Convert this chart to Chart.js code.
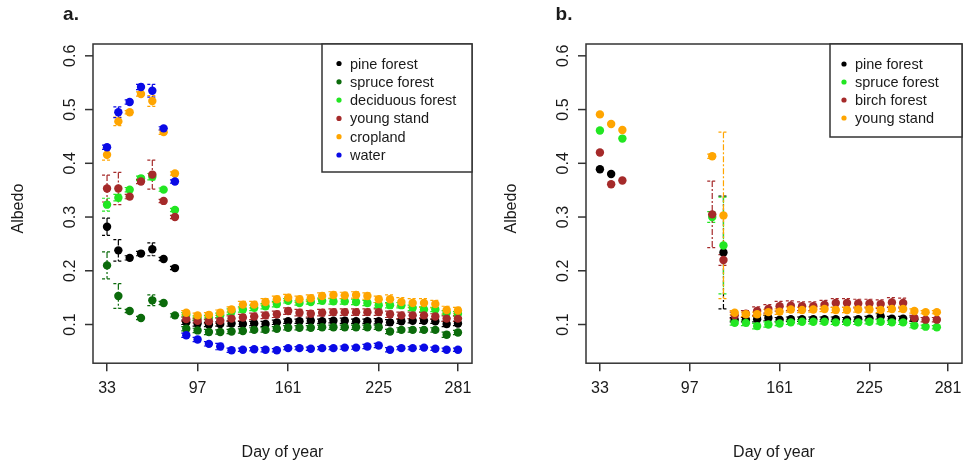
<!DOCTYPE html>
<html>
<head>
<meta charset="utf-8">
<script src="https://cdn.jsdelivr.net/npm/chart.js@4.4.1/dist/chart.umd.min.js"></script>
<style>
  html, body { margin: 0; padding: 0; background: #fff; }
  #wrap { position: relative; width: 963px; height: 468px; overflow: hidden; }
  .panel { position: absolute; top: 0; height: 468px; }
  #pa { left: 0; width: 481px; }
  #pb { left: 493px; width: 470px; }
</style>
</head>
<body>
<div id="wrap">
  <div class="panel" id="pa"><canvas id="chartA"></canvas></div>
  <div class="panel" id="pb"><canvas id="chartB"></canvas></div>
</div>
<script>
const FONT = '"Liberation Sans", Arial, sans-serif';
const TXT = '#1a1a1a';

// tick labels
const xTicks = [33, 97, 161, 225, 281];
const yTicks = [0.1, 0.2, 0.3, 0.4, 0.5, 0.6];

// panel a
const daysA = [33, 41, 49, 57, 65, 73, 81, 89, 97, 105, 113, 121, 129, 137, 145, 153,
               161, 169, 177, 185, 193, 201, 209, 217, 225, 233, 241, 249, 257, 265, 273, 281];
const namesA = ['pine forest', 'spruce forest', 'deciduous forest', 'young stand', 'cropland', 'water'];
const colorsA = ['#000000', '#0b6b0b', '#22e622', '#a52a2a', '#ffa500', '#0a0ae6'];

const pineA    = [0.282, 0.238, 0.224, 0.232, 0.240, 0.222, 0.205, 0.104, 0.102, 0.100, 0.101, 0.102, 0.101, 0.102, 0.101, 0.104,
                  0.106, 0.106, 0.107, 0.106, 0.107, 0.107, 0.106, 0.106, 0.106, 0.104, 0.106, 0.107, 0.107, 0.106, 0.101, 0.102];
const spruceA  = [0.210, 0.153, 0.125, 0.112, 0.145, 0.140, 0.117, 0.092, 0.089, 0.086, 0.086, 0.087, 0.088, 0.090, 0.090, 0.092,
                  0.094, 0.094, 0.094, 0.095, 0.095, 0.095, 0.095, 0.095, 0.095, 0.087, 0.090, 0.090, 0.090, 0.090, 0.081, 0.085];
const decidA   = [0.323, 0.336, 0.351, 0.372, 0.375, 0.351, 0.313, 0.118, 0.112, 0.113, 0.117, 0.124, 0.128, 0.131, 0.134, 0.138,
                  0.144, 0.140, 0.142, 0.144, 0.143, 0.143, 0.142, 0.140, 0.136, 0.136, 0.136, 0.131, 0.128, 0.128, 0.122, 0.120];
const youngA   = [0.353, 0.353, 0.338, 0.366, 0.379, 0.330, 0.300, 0.110, 0.107, 0.106, 0.107, 0.111, 0.113, 0.115, 0.117, 0.119,
                  0.125, 0.122, 0.120, 0.122, 0.123, 0.123, 0.123, 0.123, 0.123, 0.119, 0.117, 0.117, 0.117, 0.115, 0.111, 0.111];
const cropA    = [0.416, 0.478, 0.495, 0.529, 0.516, 0.458, 0.381, 0.122, 0.117, 0.118, 0.122, 0.128, 0.137, 0.137, 0.142, 0.147,
                  0.150, 0.147, 0.149, 0.153, 0.155, 0.154, 0.155, 0.153, 0.147, 0.147, 0.142, 0.140, 0.140, 0.138, 0.127, 0.126];
const waterA   = [0.430, 0.495, 0.514, 0.542, 0.535, 0.465, 0.366, 0.080, 0.072, 0.064, 0.059, 0.052, 0.053, 0.054, 0.053, 0.052,
                  0.056, 0.056, 0.055, 0.056, 0.056, 0.057, 0.057, 0.059, 0.061, 0.053, 0.056, 0.056, 0.057, 0.055, 0.053, 0.053];

const errPineA   = [0.016, 0.020, 0.004, 0.004, 0.012, 0.003, 0.003, 0.004, 0.005, 0.004, 0.004, 0.005, 0.005, 0.004, 0.005, 0.004,
                    0.004, 0.004, 0.005, 0.004, 0.004, 0.005, 0.004, 0.004, 0.005, 0.005, 0.004, 0.004, 0.005, 0.004, 0.005, 0.004];
const errSpruceA = [0.025, 0.023, 0.003, 0.003, 0.010, 0.003, 0.003, 0.004, 0.004, 0.005, 0.004, 0.004, 0.004, 0.004, 0.004, 0.004,
                    0.004, 0.004, 0.004, 0.004, 0.004, 0.004, 0.004, 0.004, 0.004, 0.004, 0.004, 0.004, 0.004, 0.004, 0.005, 0.004];
const errDecidA  = [0.012, 0.006, 0.004, 0.004, 0.006, 0.003, 0.003, 0.004, 0.004, 0.004, 0.004, 0.005, 0.005, 0.005, 0.005, 0.005,
                    0.004, 0.004, 0.004, 0.005, 0.005, 0.005, 0.005, 0.005, 0.005, 0.005, 0.005, 0.005, 0.005, 0.004, 0.004, 0.004];
const errYoungA  = [0.025, 0.030, 0.004, 0.004, 0.027, 0.003, 0.003, 0.004, 0.004, 0.004, 0.005, 0.005, 0.006, 0.006, 0.006, 0.006,
                    0.006, 0.006, 0.006, 0.006, 0.006, 0.006, 0.006, 0.006, 0.006, 0.006, 0.006, 0.006, 0.006, 0.005, 0.005, 0.005];
const errCropA   = [0.010, 0.008, 0.003, 0.004, 0.010, 0.004, 0.003, 0.004, 0.004, 0.004, 0.005, 0.005, 0.006, 0.006, 0.006, 0.006,
                    0.006, 0.006, 0.006, 0.006, 0.006, 0.006, 0.006, 0.006, 0.006, 0.008, 0.008, 0.008, 0.008, 0.007, 0.007, 0.006];
const errWaterA  = [0.004, 0.010, 0.004, 0.005, 0.012, 0.003, 0.003, 0.004, 0.004, 0.004, 0.006, 0.004, 0.003, 0.003, 0.004, 0.003,
                    0.003, 0.003, 0.003, 0.003, 0.003, 0.003, 0.003, 0.004, 0.004, 0.004, 0.003, 0.003, 0.003, 0.003, 0.003, 0.003];

// panel b
const daysB = [33, 41, 49, 113, 121, 129, 137, 145, 153, 161, 169, 177, 185, 193, 201, 209,
               217, 225, 233, 241, 249, 257, 265, 273];
const namesB = ['pine forest', 'spruce forest', 'birch forest', 'young stand'];
const colorsB = ['#000000', '#22e622', '#a52a2a', '#ffa500'];

const pineB   = [0.389, 0.380, null, null, 0.234, 0.109, 0.109, 0.110, 0.112, 0.109, 0.110, 0.110, 0.110, 0.110, 0.110, 0.109,
                 0.110, 0.111, 0.115, 0.111, 0.111, 0.110, null, null];
const spruceB = [0.461, null, 0.446, 0.300, 0.247, 0.103, 0.103, 0.097, 0.100, 0.102, 0.104, 0.105, 0.105, 0.105, 0.104, 0.104,
                 0.104, 0.105, 0.105, 0.104, 0.104, 0.098, 0.096, 0.095];
const birchB  = [0.420, 0.361, 0.368, 0.305, 0.220, 0.117, 0.120, 0.125, 0.129, 0.134, 0.135, 0.134, 0.134, 0.137, 0.140, 0.140,
                 0.139, 0.139, 0.138, 0.141, 0.140, 0.112, 0.109, 0.109];
const youngB  = [0.491, 0.473, 0.462, 0.413, 0.303, 0.122, 0.119, 0.119, 0.123, 0.124, 0.128, 0.127, 0.128, 0.129, 0.127, 0.127,
                 0.128, 0.128, 0.127, 0.129, 0.129, 0.125, 0.123, 0.123];

const errPineB   = [0, 0, 0, 0, 0.105, 0.004, 0.004, 0.005, 0.005, 0.004, 0.004, 0.004, 0.004, 0.004, 0.004, 0.004,
                    0.004, 0.004, 0.005, 0.004, 0.004, 0.004, 0, 0];
const errSpruceB = [0, 0, 0, 0.010, 0.090, 0.004, 0.005, 0.005, 0.005, 0.004, 0.004, 0.004, 0.004, 0.004, 0.004, 0.004,
                    0.004, 0.004, 0.004, 0.004, 0.004, 0.004, 0.003, 0.003];
const errBirchB  = [0, 0, 0, 0.062, 0.010, 0.006, 0.006, 0.008, 0.008, 0.009, 0.009, 0.008, 0.008, 0.008, 0.008, 0.008,
                    0.008, 0.008, 0.008, 0.009, 0.009, 0.005, 0.004, 0.004];
const errYoungB  = [0, 0, 0, 0.004, 0.155, 0.004, 0.004, 0.004, 0.005, 0.005, 0.005, 0.005, 0.005, 0.005, 0.005, 0.005,
                    0.005, 0.005, 0.005, 0.005, 0.005, 0.004, 0.003, 0.003];

function points(days, vals, errs) {
  const pts = [];
  days.forEach((d, i) => {
    if (vals[i] !== null) pts.push({ x: d, y: vals[i], e: errs[i] });
  });
  return pts;
}

function makeSets(days, names, colors, series, errors) {
  return names.map((name, i) => ({
    label: name,
    data: points(days, series[i], errors[i]),
    backgroundColor: colors[i],
    borderColor: colors[i],
    pointRadius: 4.2,
    pointBorderWidth: 0,
    showLine: false,
    order: names.length - i
  }));
}

// R-like frame, y axis, error bars and boxed legend
const rStyle = {
  id: 'rStyle',
  beforeDatasetsDraw(chart) {
    const ctx = chart.ctx;
    const xs = chart.scales.x, ys = chart.scales.y;
    ctx.save();
    chart.data.datasets.forEach(ds => {
      ctx.strokeStyle = ds.borderColor;
      ctx.lineWidth = 1.2;
      ds.data.forEach(p => {
        if (!p.e) return;
        const px = xs.getPixelForValue(p.x);
        const top = ys.getPixelForValue(p.y + p.e);
        const bot = ys.getPixelForValue(p.y - p.e);
        ctx.setLineDash([6, 2, 2, 2]);
        ctx.beginPath();
        ctx.moveTo(px, top);
        ctx.lineTo(px, bot);
        ctx.stroke();
        ctx.setLineDash([3, 2]);
        ctx.beginPath();
        ctx.moveTo(px - 5, top); ctx.lineTo(px + 5, top);
        ctx.moveTo(px - 5, bot); ctx.lineTo(px + 5, bot);
        ctx.stroke();
      });
    });
    ctx.restore();
  },
  afterDraw(chart, args, opts) {
    const ctx = chart.ctx;
    const a = chart.chartArea;
    const ys = chart.scales.y;
    ctx.save();
    // frame
    ctx.strokeStyle = '#333';
    ctx.lineWidth = 1.5;
    ctx.strokeRect(a.left, a.top, a.right - a.left, a.bottom - a.top);
    // y ticks and rotated labels
    ctx.fillStyle = TXT;
    ctx.font = '16px ' + FONT;
    ctx.textAlign = 'center';
    ctx.textBaseline = 'middle';
    yTicks.forEach(v => {
      const py = ys.getPixelForValue(v);
      ctx.beginPath();
      ctx.moveTo(a.left, py);
      ctx.lineTo(a.left - 8, py);
      ctx.stroke();
      ctx.save();
      ctx.translate(a.left - 22, py);
      ctx.rotate(-Math.PI / 2);
      ctx.fillText(v.toFixed(1), 0, 0);
      ctx.restore();
    });
    ctx.save();
    ctx.translate(a.left - 74, (a.top + a.bottom) / 2 + 5);
    ctx.rotate(-Math.PI / 2);
    ctx.fillText('Albedo', 0, 0);
    ctx.restore();
    // panel letter
    ctx.font = 'bold 19px ' + FONT;
    ctx.fillText(opts.letter, a.left - 22, 15);
    // legend box
    const lg = opts.legend;
    const n = chart.data.datasets.length;
    const h = lg.first + (n - 1) * lg.step + lg.bottom;
    ctx.fillStyle = '#fff';
    ctx.fillRect(a.right - lg.width, a.top, lg.width, h);
    ctx.strokeRect(a.right - lg.width, a.top, lg.width, h);
    ctx.font = '14.5px ' + FONT;
    ctx.textAlign = 'left';
    chart.data.datasets.forEach((ds, i) => {
      const cy = a.top + lg.first + i * lg.step;
      const cx = a.right - lg.width + lg.dot;
      ctx.fillStyle = ds.backgroundColor;
      ctx.beginPath();
      ctx.arc(cx, cy, 2.6, 0, Math.PI * 2);
      ctx.fill();
      ctx.fillStyle = TXT;
      ctx.fillText(ds.label, cx + 11, cy + 1);
    });
    ctx.restore();
  }
};

function makeChart(id, datasets, letter, legend, padRight) {
  return new Chart(document.getElementById(id).getContext('2d'), {
    type: 'scatter',
    data: { datasets: datasets },
    plugins: [rStyle],
    options: {
      responsive: true,
      maintainAspectRatio: false,
      animation: false,
      events: [],
      layout: { autoPadding: false, padding: { left: 93, right: padRight, top: 44, bottom: 5.4 } },
      plugins: {
        legend: { display: false },
        tooltip: { enabled: false },
        rStyle: { letter: letter, legend: legend }
      },
      scales: {
        x: {
          type: 'linear',
          min: 23.08,
          max: 290.92,
          afterBuildTicks(scale) { scale.ticks = xTicks.map(v => ({ value: v })); },
          afterFit(scale) { scale.paddingLeft = 0; scale.paddingRight = 0; },
          border: { display: false },
          grid: { display: true, drawOnChartArea: false, drawTicks: true, tickLength: 8, color: '#333', lineWidth: 1.5 },
          ticks: { font: { family: FONT, size: 16 }, color: TXT, padding: 8, maxRotation: 0, autoSkip: false },
          title: { display: true, text: 'Day of year', font: { family: FONT, size: 16 }, color: TXT, padding: { top: 37, bottom: 0 } }
        },
        y: { display: false, min: 0.028, max: 0.622 }
      }
    }
  });
}

makeChart('chartA',
  makeSets(daysA, namesA, colorsA,
    [pineA, spruceA, decidA, youngA, cropA, waterA],
    [errPineA, errSpruceA, errDecidA, errYoungA, errCropA, errWaterA]),
  'a.', { width: 150, first: 19.5, step: 18.3, bottom: 17, dot: 17 }, 9);

makeChart('chartB',
  makeSets(daysB, namesB, colorsB,
    [pineB, spruceB, birchB, youngB],
    [errPineB, errSpruceB, errBirchB, errYoungB]),
  'b.', { width: 132, first: 20, step: 18, bottom: 19, dot: 14 }, 1);
</script>
</body>
</html>
